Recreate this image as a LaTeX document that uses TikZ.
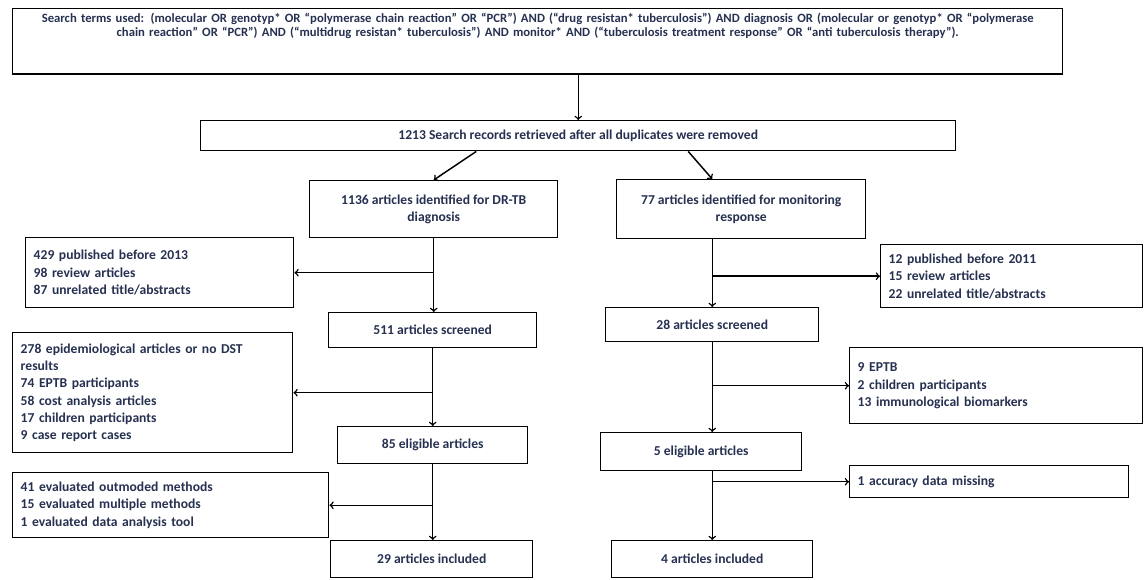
\documentclass[tikz,border=0pt]{standalone}
\usepackage{fontspec}
\setmainfont{Carlito}
\usetikzlibrary{calc}
\usetikzlibrary{positioning}
\definecolor{inkblue}{RGB}{38,48,80}

\begin{document}
\begin{tikzpicture}[x=0.75pt, y=-0.75pt,
        nodes={font={\bfseries\fontsize{10.2}{13}\selectfont}, text=inkblue},
        box_style/.style={draw=black, line width=1.1pt, anchor=north west, inner sep=3pt, align=center},
        list_style/.style={box_style, align=left, inner xsep=6pt},
        line_style/.style={->, line width=1.1pt}]

      \useasboundingbox (0,0) rectangle (1144,580);

      % search and records
      \node[box_style, minimum width=787.5pt, text width=780pt, inner ysep=3pt, text depth=36pt,
            font={\bfseries\fontsize{9.5}{10.5}\selectfont}] (search_terms) at (12,8)
        {Search terms used: (molecular OR genotyp* OR ``polymerase chain reaction'' OR ``PCR'') AND (``drug resistan* tuberculosis'') AND diagnosis OR (molecular or genotyp* OR ``polymerase\\
         chain reaction'' OR ``PCR'') AND (``multidrug resistan* tuberculosis'') AND monitor* AND (``tuberculosis treatment response'' OR ``anti tuberculosis therapy'').};
      \node[box_style, minimum width=566.25pt, minimum height=22.5pt] (records) at (200,120)
        {1213 Search records retrieved after all duplicates were removed};

      % diagnosis column
      \node[box_style, minimum width=186pt, minimum height=42.75pt] (drtb_ident) at (309,180)
        {1136 articles identified for DR-TB\\diagnosis};
      \node[list_style, text width=189pt, minimum height=52.5pt] (drtb_excl1) at (25,237)
        {429 published before 2013\\98 review articles\\87 unrelated title/abstracts};
      \node[box_style, minimum width=156pt, minimum height=26.25pt] (drtb_screen) at (328,312)
        {511 articles screened};
      \node[list_style, text width=198pt, minimum height=90pt] (drtb_excl2) at (12,332)
        {278 epidemiological articles or no DST\\results\\74 EPTB participants\\58 cost analysis articles\\17 children participants\\9 case report cases};
      \node[box_style, minimum width=142.5pt, minimum height=27.75pt] (drtb_elig) at (337,426)
        {85 eligible articles};
      \node[list_style, text width=225pt, minimum height=48.75pt] (drtb_excl3) at (12,472)
        {41 evaluated outmoded methods\\15 evaluated multiple methods\\1 evaluated data analysis tool};
      \node[box_style, minimum width=151.5pt, minimum height=27.75pt] (drtb_incl) at (330,540)
        {29 articles included};

      % monitoring column
      \node[box_style, minimum width=186.75pt, minimum height=44.25pt] (mon_ident) at (616,179)
        {77 articles identified for monitoring\\response};
      \node[list_style, text width=184.5pt, minimum height=47.25pt] (mon_excl1) at (880,244)
        {12 published before 2011\\15 review articles\\22 unrelated title/abstracts};
      \node[box_style, minimum width=159.75pt, minimum height=25.5pt] (mon_screen) at (605,307)
        {28 articles screened};
      \node[list_style, text width=207.75pt, minimum height=57pt] (mon_excl2) at (849,347)
        {9 EPTB\\2 children participants\\13 immunological biomarkers};
      \node[box_style, minimum width=150.75pt, minimum height=28.5pt] (mon_elig) at (600,432)
        {5 eligible articles};
      \node[list_style, text width=197.25pt, minimum height=24pt] (mon_excl3) at (849,465)
        {1 accuracy data missing};
      \node[box_style, minimum width=150.75pt, minimum height=27.75pt] (mon_incl) at (611,540)
        {4 articles included};

      \draw[line_style] (search_terms.south -| records.north) -- (records.north);
      \draw[line_style] ($(records.south)+(-102,0)$) -- (drtb_ident.north);
      \draw[line_style] ($(records.south)+(110,0)$) -- (mon_screen.north |- mon_ident.north);

      \draw[line_style] (drtb_ident.south) -- (drtb_ident.south |- drtb_screen.north);
      \draw[line_style] (drtb_ident.south |- drtb_excl1.east) -- (drtb_excl1.east);
      \draw[line_style] (drtb_screen.south) -- (drtb_screen.south |- drtb_elig.north);
      \draw[line_style] (drtb_screen.south |- drtb_excl2.east) -- (drtb_excl2.east);
      \draw[line_style] (drtb_elig.south -| drtb_screen.south) -- (drtb_screen.south |- drtb_incl.north);
      \draw[line_style] (drtb_screen.south |- drtb_excl3.east) -- (drtb_excl3.east);

      \draw[line_style] (mon_ident.south -| mon_screen.north) -- (mon_screen.north);
      \draw[line_style] (mon_screen.north |- mon_excl1.west) -- (mon_excl1.west);
      \draw[line_style] (mon_screen.south) -- (mon_screen.south |- mon_elig.north);
      \draw[line_style] (mon_screen.south |- mon_excl2.west) -- (mon_excl2.west);
      \draw[line_style] (mon_elig.south -| mon_screen.south) -- (mon_screen.south |- mon_incl.north);
      \draw[line_style] (mon_screen.south |- mon_excl3.west) -- (mon_excl3.west);
    \end{tikzpicture}
\end{document}
